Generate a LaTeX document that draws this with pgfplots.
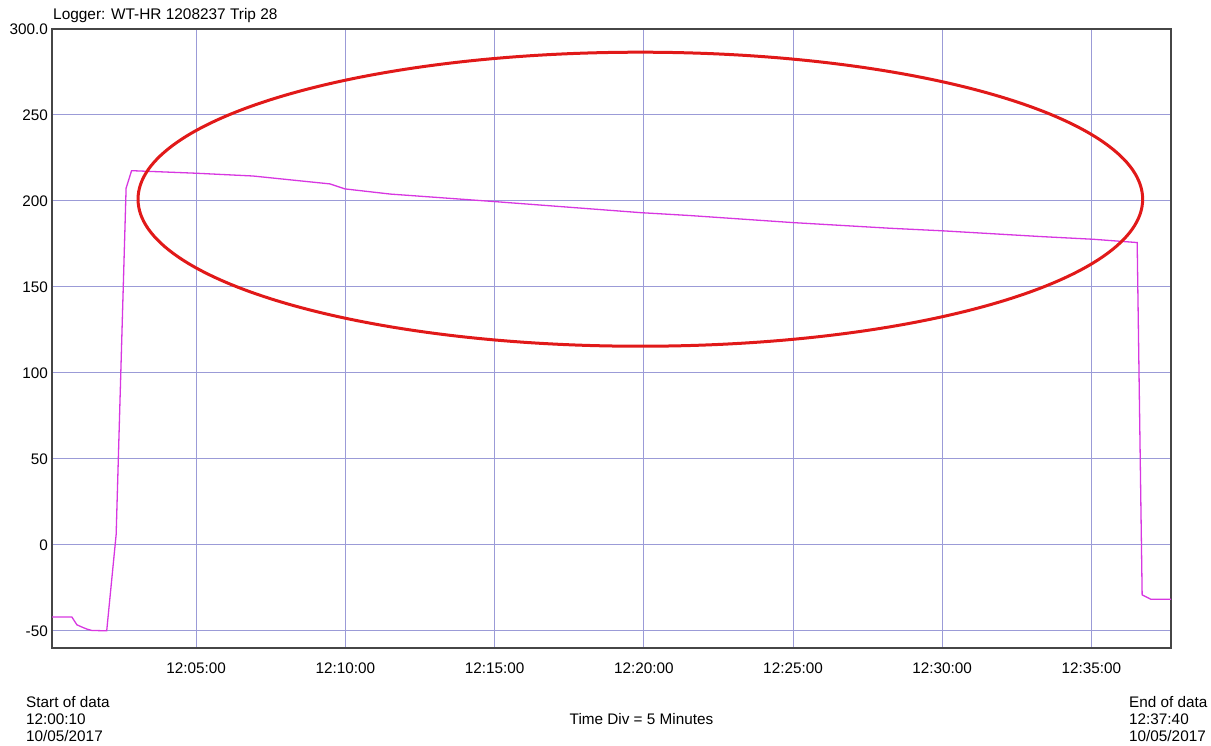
\documentclass[border=0pt]{standalone}
\usepackage{pgfplots}
\pgfplotsset{compat=1.18}
\usepackage{fontspec}
\setmainfont{Liberation Sans}
\definecolor{gridc}{RGB}{155,155,215}
\definecolor{linec}{RGB}{215,55,225}
\definecolor{ellc}{RGB}{225,25,25}
\definecolor{boxc}{RGB}{70,70,70}
\pgfplotstableread{
t v
10 -42
50 -42
60 -46.5
70 -47.8
80 -49
90 -49.8
120 -50
139 6
159 207.4
170 217.6
301 216.1
414 214.5
569 209.9
599 207
690 204
901 199.6
1193 193.2
1293 191.5
1500 187.4
1696 184.1
1802 182.6
1997 179.3
2104 177.7
2192 175.8
2202 -29.1
2219 -31.6
2260 -31.6
}\datatable
\begin{document}
\begin{tikzpicture}[x=1pt,y=1pt]
\useasboundingbox (0,0) rectangle (1211,746);
\begin{axis}[
  at={(52pt,98pt)}, anchor=south west,
  width=1119pt, height=619pt, scale only axis,
  xmin=10, xmax=2260, ymin=-60, ymax=300,
  axis line style={boxc, line width=1.5pt},
  grid=major, major grid style={gridc, line width=1pt},
  major tick length=0pt,
  xtick={300,600,900,1200,1500,1800,2100},
  xticklabels={12:05:00,12:10:00,12:15:00,12:20:00,12:25:00,12:30:00,12:35:00},
  ytick={-50,0,50,100,150,200,250,300},
  yticklabels={-50,0,50,100,150,200,250,300.0},
  /pgf/number format/assume math mode=true,
  ticklabel style={font=\fontsize{15.3}{18}\selectfont, inner sep=0pt},
  xticklabel style={anchor=north, yshift=-14.5pt},
  yticklabel style={anchor=east, xshift=-4pt},
]
\addplot[linec, line width=1.3pt] table[x=t,y=v] {\datatable};
\draw[ellc, line width=3pt] (axis cs:1193,201) ellipse [x radius=1010, y radius=85.5];
\end{axis}
\node[anchor=base west, inner sep=0pt, font=\fontsize{15.4}{18}\selectfont] at (53,726) {Logger: WT-HR 1208237 Trip 28};
\begin{scope}[every node/.style={inner sep=0pt, font=\fontsize{15.3}{18}\selectfont}]
\node[anchor=base west] at (26,38) {Start of data};
\node[anchor=base west] at (26,21) {12:00:10};
\node[anchor=base west] at (26,4.5) {10/05/2017};
\node[anchor=base] at (641.5,21) {Time Div = 5 Minutes};
\node[anchor=base west] at (1129,38) {End of data};
\node[anchor=base west] at (1129,21) {12:37:40};
\node[anchor=base west] at (1129,4.5) {10/05/2017};
\end{scope}
\end{tikzpicture}
\end{document}
